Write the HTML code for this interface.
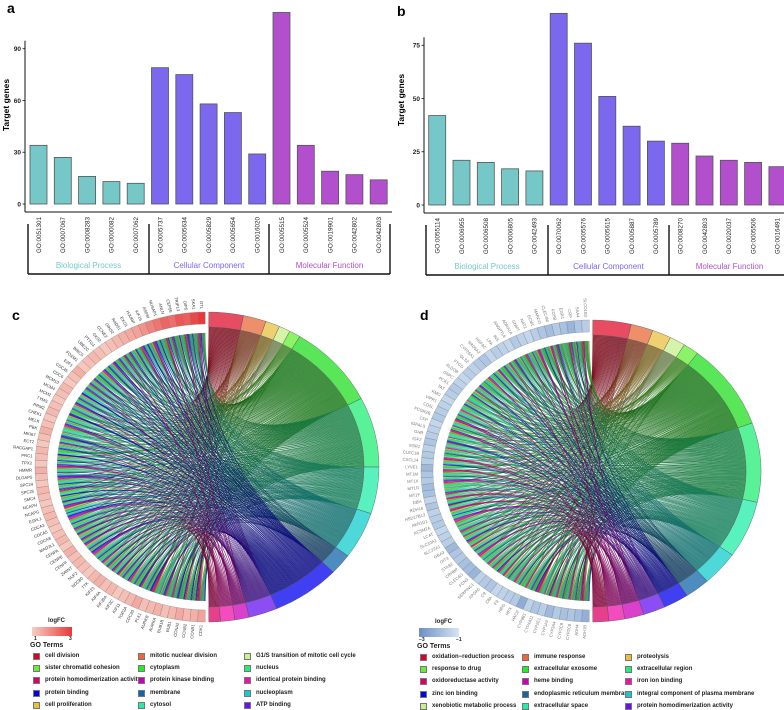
<!DOCTYPE html>
<html><head><meta charset="utf-8">
<style>
html,body{margin:0;padding:0;background:#fff;}
body{width:784px;height:708px;position:relative;overflow:hidden;font-family:"Liberation Sans",Arial,sans-serif;}
svg{position:absolute;left:0;top:0;}
.lg{position:absolute;font-size:6px;font-weight:bold;color:#222;white-space:nowrap;line-height:7px;}
.sw{position:absolute;width:7px;height:7px;border:0.6px solid #777;box-sizing:border-box;}
</style></head>
<body>
<svg id="fig" width="784" height="708" viewBox="0 0 784 708" xmlns="http://www.w3.org/2000/svg">
<defs id="defs"></defs>
<text x="7" y="13" font-size="14" font-weight="bold">a</text>
<text x="397" y="16" font-size="14" font-weight="bold">b</text>
<text x="12" y="320" font-size="14" font-weight="bold">c</text>
<text x="420" y="320" font-size="14" font-weight="bold">d</text>
<g id="gA"></g>
<g id="gB"></g>
<g id="gC"></g>
<g id="gD"></g>
</svg>
<div id="legC"></div>
<div id="legD"></div>
<script>
// ---------- Bar chart data ----------
const groupNames = ["Biological Process","Cellular Component","Molecular Function"];
const groupColors = ["#76c8c8","#7b68ee","#b24fcc"];
const aTerms = ["GO:0051301","GO:0007067","GO:0008283","GO:0000082","GO:0007062","GO:0005737","GO:0005634","GO:0005829","GO:0005654","GO:0016020","GO:0005515","GO:0005524","GO:0019901","GO:0042802","GO:0042803"];
const aValues = [34,27,16,13,12,79,75,58,53,29,111,34,19,17,14];
const aTicks = [0,30,60,90];
const bTerms = ["GO:0055114","GO:0006955","GO:0006508","GO:0006805","GO:0042493","GO:0070062","GO:0005576","GO:0005615","GO:0005887","GO:0005789","GO:0008270","GO:0042803","GO:0020037","GO:0005506","GO:0016491"];
const bValues = [42,21,20,17,16,90,76,51,37,30,29,23,21,20,18];
const bTicks = [0,25,50,75];

// ---------- Chord data ----------
const cTerms = ["cell division","mitotic nuclear division","cell proliferation","G1/S transition of mitotic cell cycle","sister chromatid cohesion","cytoplasm","nucleus","cytosol","nucleoplasm","membrane","protein binding","ATP binding","protein kinase binding","identical protein binding","protein homodimerization activity"];
const cTermColors = ["#e0102f","#e8693a","#e8c040","#c8f08c","#66ee33","#22dd22","#22ee77","#22eeaa","#11cccc","#1166aa","#0000ee","#6611ee","#cc00bb","#ee11aa","#dd0066"];
const cTermCounts = [12,8,5,4,4,32,27,18,18,8,24,10,5,5,4];
const cGenes = ["CDK1","CCNB1","CCNB2","CCNA2","BUB1","BUB1B","AURKA","AURKB","PLK1","CDC20","TOP2A","KIF11","KIF2C","KIF20A","KIF4A","KIF23","TTK","NDC80","NUF2","ZWINT","CENPF","CENPE","CENPA","MAD2L1","CDCA8","CDCA5","CDCA3","ESPL1","NCAPG","NCAPH","SMC4","SPC25","SPC24","DLGAP5","HMMR","TPX2","PRC1","RACGAP1","ECT2","MKI67","PBK","MELK","CHEK1","RRM2","TYMS","MCM2","MCM4","MCM10","CDC6","CDC45","E2F1","FOXM1","BIRC5","UBE2C","PTTG1","CKS2","CCNE2","GINS2","RAD51","EXO1","HJURP","KIF15","ASPM","NUSAP1","ANLN","CEP55","TRIP13","OIP5","SKA1","DTL"];
const cLogFC = [1.6,1.4,1.3,1.5,1.3,1.2,1.4,1.3,1.2,1.5,1.3,1.2,1.1,1.3,1.2,1.4,1.3,1.1,1.2,1.3,1.2,1.4,1.1,1.3,1.2,1.1,1.2,1.3,1.2,1.1,1.2,1.3,1.1,1.2,1.4,1.1,1.2,1.3,1.1,1.2,1.4,1.2,1.1,1.3,1.2,1.1,1.2,1.3,1.1,1.2,1.4,1.1,1.2,1.3,1.2,1.1,1.2,1.3,1.4,1.5,1.6,1.8,2.0,2.2,2.4,2.3,2.6,2.5,2.8,3.0];
const dTerms = ["oxidation-reduction process","immune response","proteolysis","xenobiotic metabolic process","response to drug","extracellular exosome","extracellular region","extracellular space","integral component of plasma membrane","endoplasmic reticulum membrane","zinc ion binding","protein homodimerization activity","heme binding","iron ion binding","oxidoreductase activity"];
const dTermColors = ["#e0102f","#e8693a","#e8c040","#c8f08c","#66ee33","#22dd22","#22ee77","#22eeaa","#11cccc","#1166aa","#0000ee","#6611ee","#cc00bb","#ee11aa","#dd0066"];
const dTermCounts = [12,7,6,5,5,30,28,20,12,8,8,7,6,5,5];
const dGenes = ["ADH1B","ADH4","CYP2C8","CYP2C9","CYP3A4","CYP1A2","CYP2E1","CYP4A11","CYP8B1","HAO2","HPX","HRG","F9","C8A","C9","APOA5","SERPINC1","FCN3","CLEC4G","CRHBP","STAB2","OIT3","GBA3","SLC22A1","SLC10A1","LCAT","ACSM2A","AKR1D1","HSD17B13","RDH16","DBH","MT1F","MT1G","MT1X","MT1M","LYVE1","CXCL14","CLEC1B","ESR1","IGF2","GHR","IGFALS","CFP","FCGR2B","CD5L","VIPR1","KMO","TAT","PCK1","G6PC","ALDOB","FTCD","GLS2","CYP26A1","SRD5A2","HGFAC","LPA","INS","ANGPTL6","ADRA1A","GNMT","NAT2","ECM1","MARCO","CLEC4M","FOSB","EGR1","CRP","SAA4","SLCO1B3"];
const dLogFC = [-2.1,-1.8,-1.6,-1.7,-1.5,-1.9,-1.4,-1.6,-1.3,-2.2,-1.5,-1.4,-1.3,-1.2,-1.6,-1.5,-1.3,-2.0,-1.8,-1.7,-1.5,-1.6,-1.9,-1.4,-1.3,-1.2,-1.5,-1.4,-1.3,-1.6,-1.2,-1.7,-1.8,-1.5,-1.6,-1.9,-1.4,-1.5,-1.3,-1.6,-1.4,-1.3,-1.2,-1.5,-1.4,-1.3,-1.2,-1.4,-1.5,-1.3,-1.2,-1.4,-1.3,-1.5,-1.6,-1.2,-1.4,-1.3,-1.2,-1.5,-1.3,-1.2,-1.4,-1.6,-1.8,-1.5,-1.7,-2.0,-1.6,-1.4];

const NS="http://www.w3.org/2000/svg";
function mk(tag,attrs,parent){const e=document.createElementNS(NS,tag);for(const k in attrs)e.setAttribute(k,attrs[k]);if(parent)parent.appendChild(e);return e;}

function drawBars(g,terms,values,ticks,cfg){
  const yScale=v=>cfg.y0-(v/cfg.yMax)*(cfg.y0-cfg.yTop);
  const xScale=i=>cfg.x0+i*cfg.step;
  const ax=mk('line',{x1:cfg.axisX,x2:cfg.axisX,y1:cfg.yTop-8,y2:cfg.xAxisY,stroke:'#111','stroke-width':1},g);
  
  
  const xl=mk('line',{x1:cfg.axisX,x2:cfg.xEnd,y1:cfg.xAxisY,y2:cfg.xAxisY,stroke:'#111','stroke-width':1},g);
  
  
  ticks.forEach(t=>{
    const y=yScale(t);
    mk('line',{x1:cfg.axisX-2.5,x2:cfg.axisX,y1:y,y2:y,stroke:'#111','stroke-width':0.8},g);
    const tx=mk('text',{x:cfg.axisX-4,y:y+2.3,'font-size':6.5,'font-weight':'bold','text-anchor':'end',fill:'#222'},g);
    tx.textContent=t;
    
    
  });
  const yt=mk('text',{x:0,y:0,'font-size':8.5,'font-weight':'bold','text-anchor':'middle',transform:`translate(${cfg.titleX},${cfg.titleY}) rotate(-90)`},g);
  yt.textContent='Target genes';
  
  
  values.forEach((v,i)=>{
    const x=xScale(i),y=yScale(v),grp=Math.floor(i/5);
    const r=mk('rect',{x:x,y:y,width:cfg.bw,height:cfg.y0-y,fill:groupColors[grp],stroke:'#555','stroke-width':0.8},g);
    
    
    const lab=mk('text',{x:0,y:0,'font-size':6.3,'text-anchor':'end',fill:'#222',transform:`translate(${x+cfg.bw/2+2.3},${cfg.xAxisY+5}) rotate(-90)`},g);
    lab.textContent=terms[i];
    
    
  });
  cfg.bx.forEach((bx,k)=>{
    mk('line',{x1:bx,x2:bx,y1:cfg.xAxisY+12,y2:cfg.brY,stroke:'#111','stroke-width':1.4},g);
  });
  mk('line',{x1:cfg.bx[0],x2:cfg.bx[3],y1:cfg.brY,y2:cfg.brY,stroke:'#111','stroke-width':1.4},g);
  groupNames.forEach((n,k)=>{
    const t=mk('text',{x:(cfg.bx[k]+cfg.bx[k+1])/2,y:cfg.brY-6,'font-size':8,'text-anchor':'middle',fill:groupColors[k]},g);
    t.textContent=n;
    
    
  });
}
drawBars(document.getElementById('gA'),aTerms,aValues,aTicks,{y0:204,yTop:48.7,yMax:90,x0:30,step:24.3,bw:17,axisX:25,xAxisY:212,xEnd:392,titleX:9,titleY:105,bx:[28,149,269,390],brY:274});
drawBars(document.getElementById('gB'),bTerms,bValues,bTicks,{y0:205,yTop:45.3,yMax:75,x0:428.7,step:24.3,bw:17,axisX:424,xAxisY:213,xEnd:784,titleX:404,titleY:100,bx:[426,548,669,790],brY:275});

// ---------- Chord diagrams ----------
function darken(hex,f){const n=parseInt(hex.slice(1),16);const r=(n>>16)&255,g=(n>>8)&255,b=n&255;return `rgb(${Math.round(r*f)},${Math.round(g*f)},${Math.round(b*f)})`;}
function lerpCol(c1,c2,t){return c1.map((v,i)=>Math.round(v+(c2[i]-v)*t));}
function drawChord(g,id,terms,colors,counts,genes,logfc,cfg){
  const cx=cfg.cx,cy=cfg.cy;
  const P=(rx,ry,t)=>[cx+rx*Math.sin(t),cy-ry*Math.cos(t)];
  const D=Math.PI/180;
  const defs=document.getElementById('defs');
  colors.forEach((c,j)=>{
    const lg=mk('linearGradient',{id:id+'g'+j,gradientUnits:'userSpaceOnUse',x1:cx-cfg.rx,y1:cy,x2:cx+cfg.rx,y2:cy},defs);
    mk('stop',{offset:0,'stop-color':c},lg);
    mk('stop',{offset:0.3,'stop-color':darken(c,0.8)},lg);
    mk('stop',{offset:0.6,'stop-color':darken(c,0.55)},lg);
    mk('stop',{offset:1,'stop-color':darken(c,0.6)},lg);
  });
  const total=counts.reduce((a,b)=>a+b,0);
  const gap=0.6*D, span=Math.PI-2*gap;
  const tStart=[];let acc=gap;
  counts.forEach(c=>{tStart.push(acc);acc+=span*c/total;});
  const n=genes.length;const links=[];const REP=3;
  counts.forEach((c,j)=>{for(let k=0;k<c*REP;k++){links.push({t:j,g:(j*11+k*7+Math.floor(k/5))%n});}});
  const gLinks=genes.map(()=>[]);links.forEach(l=>gLinks[l.g].push(l));
  const gw=span/n;
  genes.forEach((gn,i)=>{const a0=Math.PI+gap+i*gw;const L=gLinks[i];L.sort((a,b)=>b.t-a.t);L.forEach((l,m)=>{l.g1=a0+gw*m/L.length;l.g2=a0+gw*(m+1)/L.length;});});
  counts.forEach((c,j)=>{const L=links.filter(l=>l.t===j).sort((a,b)=>b.g-a.g);const w=span*c/total;L.forEach((l,m)=>{l.t1=tStart[j]+w*m/L.length;l.t2=tStart[j]+w*(m+1)/L.length;});});
  const crxL=cfg.rx-22,cryL=cfg.ry-21,crxR=cfg.rx-15,cryR=cfg.ry-15;
  const pf=p=>p[0].toFixed(2)+','+p[1].toFixed(2);
  links.forEach(l=>{
    const a=P(crxL,cryL,l.g1),b=P(crxL,cryL,l.g2),c=P(crxR,cryR,l.t1),d=P(crxR,cryR,l.t2);
    const path=`M${pf(a)}A${crxL},${cryL} 0 0 1 ${pf(b)}Q${cx},${cy} ${pf(c)}A${crxR},${cryR} 0 0 1 ${pf(d)}Q${cx},${cy} ${pf(a)}Z`;
    const r=mk('path',{d:path,fill:`url(#${id}g${l.t})`,'fill-opacity':0.85,stroke:'rgba(0,0,0,0.3)','stroke-width':0.15},g);
    
    
  });
  const arcSeg=(a1,a2,ro,ri)=>{const o1=P(ro[0],ro[1],a1),o2=P(ro[0],ro[1],a2),i2=P(ri[0],ri[1],a2),i1=P(ri[0],ri[1],a1);const lg=(a2-a1)>Math.PI?1:0;return `M${pf(o1)}A${ro[0]},${ro[1]} 0 ${lg} 1 ${pf(o2)}L${pf(i2)}A${ri[0]},${ri[1]} 0 ${lg} 0 ${pf(i1)}Z`;};
  counts.forEach((c,j)=>{
    const s=mk('path',{d:arcSeg(tStart[j],tStart[j]+span*c/total,[cfg.rx,cfg.ry],[crxR,cryR]),fill:colors[j],'fill-opacity':0.75,stroke:'#555','stroke-width':0.4},g);
    
    
  });
  const grxI=cfg.rx-12,gryI=cfg.ry-12;
  genes.forEach((gn,i)=>{
    const a1=Math.PI+gap+i*gw,a2=a1+gw;
    const t=(logfc[i]-cfg.fcMin)/(cfg.fcMax-cfg.fcMin);
    const col=lerpCol(cfg.c0,cfg.c1,Math.max(0,Math.min(1,t)));
    const s=mk('path',{d:arcSeg(a1,a2,[cfg.rx,cfg.ry],[grxI,gryI]),fill:`rgb(${col})`,stroke:'#777','stroke-width':0.3},g);
    
    
    const am=(a1+a2)/2;const p=P(cfg.rx+3,cfg.ry+3,am);
    const phi=Math.atan2(-Math.cos(am)*cfg.ry,Math.sin(am)*cfg.rx)/D;
    const tx=mk('text',{x:0,y:0,'font-size':cfg.fs,'text-anchor':'end',fill:cfg.lc,transform:`translate(${p[0].toFixed(1)},${p[1].toFixed(1)}) rotate(${(phi+180).toFixed(1)})`,dy:'1'},g);
    tx.textContent=gn;
    
    
  });
}
drawChord(document.getElementById('gC'),'c',cTerms,cTermColors,cTermCounts,cGenes,cLogFC,{cx:207,cy:467,rx:172,ry:155,fcMin:1,fcMax:3,c0:[246,206,196],c1:[232,58,58],fs:4.2,lc:'#333'});
drawChord(document.getElementById('gD'),'d',dTerms,dTermColors,dTermCounts,dGenes,dLogFC,{cx:591,cy:471,rx:170,ry:151,fcMin:-3,fcMax:-1,c0:[100,140,195],c1:[205,222,240],fs:4.2,lc:'#777'});

// ---------- Legends ----------
function legend(host,x0,y0,gradCss,lo,hi,cols,loX,hiX){
  let h='';
  h+=`<div class="lg" style="left:${x0+16}px;top:${y0}px;font-size:6px">logFC</div>`;
  h+=`<div style="position:absolute;left:${x0}px;top:${y0+9}px;width:40px;height:9px;background:${gradCss}"></div>`;
  h+=`<div class="lg" style="left:${x0+loX}px;top:${y0+18}px;font-size:5px">${lo}</div>`;
  h+=`<div class="lg" style="left:${x0+hiX}px;top:${y0+18}px;font-size:5px">${hi}</div>`;
  h+=`<div class="lg" style="left:${x0-2}px;top:${y0+24}px;font-size:7px">GO Terms</div>`;
  cols.forEach(col=>{col.items.forEach((it,r)=>{
    const y=y0+35+r*12.2;
    h+=`<div class="sw" style="left:${col.x}px;top:${y}px;background:${it[1]}"></div>`;
    h+=`<div class="lg" style="left:${col.x+12}px;top:${y}px">${it[0]}</div>`;
  });});
  document.getElementById(host).innerHTML=h;
}
legend('legC',32,618,'linear-gradient(to right,#f4cfc4,#e83a3a)','1','3',[
 {x:33,items:[["cell division","#d7002a"],["sister chromatid cohesion","#66ee33"],["protein homodimerization activity","#dd0066"],["protein binding","#0000ee"],["cell proliferation","#e8c040"]]},
 {x:138,items:[["mitotic nuclear division","#e8693a"],["cytoplasm","#22ee22"],["protein kinase binding","#cc00bb"],["membrane","#1166aa"],["cytosol","#22eeaa"]]},
 {x:244,items:[["G1/S transition of mitotic cell cycle","#c8f08c"],["nucleus","#22ee77"],["identical protein binding","#ee11aa"],["nucleoplasm","#11cccc"],["ATP binding","#6611ee"]]}],2,37);
legend('legD',419,619,'linear-gradient(to right,#6a8fc4,#d8e4f2)','\u22123','\u22121',[
 {x:420,items:[["oxidation\u2212reduction process","#d7002a"],["response to drug","#66ee33"],["oxidoreductase activity","#dd0066"],["zinc ion binding","#0000ee"],["xenobiotic metabolic process","#c8f08c"]]},
 {x:522,items:[["immune response","#e8693a"],["extracellular exosome","#22ee22"],["heme binding","#cc00bb"],["endoplasmic reticulum membrane","#1166aa"],["extracellular space","#22eeaa"]]},
 {x:625,items:[["proteolysis","#e8c040"],["extracellular region","#22ee77"],["iron ion binding","#ee11aa"],["integral component of plasma membrane","#11cccc"],["protein homodimerization activity","#6611ee"]]}],0,37);
</script>
</body></html>
